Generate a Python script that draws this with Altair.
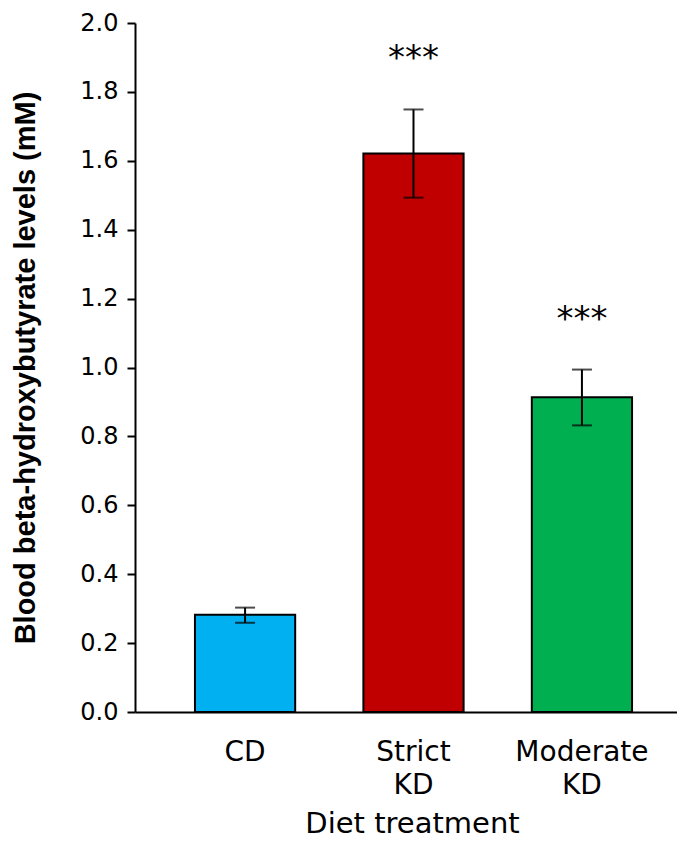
import altair as alt
import pandas as pd

diets = ["CD", "Strict KD", "Moderate KD"]
means = [0.282, 1.621, 0.914]
upper = [0.303, 1.749, 0.994]
lower = [0.259, 1.493, 0.832]
stars = ["", "***", "***"]
colors = ["#00B0F0", "#C00000", "#00B050"]

df = pd.DataFrame({"diet": diets, "mean": means, "upper": upper, "lower": lower, "stars": stars})

FONT = "DejaVu Sans"
PLOT_W = 542
PLOT_H = 689

x_scale = alt.Scale(paddingInner=0.405, paddingOuter=0.356, range=[0, 557])

x_enc = alt.X(
    "diet:N",
    sort=diets,
    scale=x_scale,
    axis=alt.Axis(
        title="Diet treatment",
        titleFont=FONT,
        titleFontSize=29,
        titleFontWeight="normal",
        titleColor="black",
        titleBaseline="alphabetic",
        titleY=120,
        titleX=277,
        labelExpr="split(datum.label, ' ')",
        labelFont=FONT,
        labelFontSize=28,
        labelColor="black",
        labelAngle=0,
        labelPadding=26,
        labelLineHeight=33,
        labelBaseline="top",
        ticks=False,
        grid=False,
        domainColor="black",
        domainWidth=2,
    ),
)

y_scale = alt.Scale(domain=[0, 2.0], nice=False)
y_axis = alt.Axis(
    title="Blood beta-hydroxybutyrate levels (mM)",
    titleFont="Liberation Sans",
    titleFontSize=29,
    titleFontWeight="bold",
    titleColor="black",
    titleAngle=270,
    titleAlign="center",
    titleBaseline="middle",
    titleX=-110,
    titleY=PLOT_H / 2,
    values=[0, 0.2, 0.4, 0.6, 0.8, 1.0, 1.2, 1.4, 1.6, 1.8, 2.0],
    format=".1f",
    labelFont=FONT,
    labelFontSize=24,
    labelColor="black",
    labelPadding=9,
    tickSize=8,
    tickWidth=2,
    tickColor="black",
    domainColor="black",
    domainWidth=2,
    grid=False,
)

base = alt.Chart(df)

bars = base.mark_bar(stroke="black", strokeWidth=2).encode(
    x=x_enc,
    y=alt.Y("mean:Q", scale=y_scale, axis=y_axis),
    color=alt.Color("diet:N", scale=alt.Scale(domain=diets, range=colors), legend=None),
)

err = base.mark_rule(color="black", strokeWidth=2).encode(
    x=alt.X("diet:N", sort=diets),
    y=alt.Y("lower:Q", scale=y_scale),
    y2="upper:Q",
)

cap_hi = base.mark_tick(color="black", size=20, thickness=2).encode(
    x=alt.X("diet:N", sort=diets),
    y=alt.Y("upper:Q", scale=y_scale),
)
cap_lo = base.mark_tick(color="black", size=20, thickness=2).encode(
    x=alt.X("diet:N", sort=diets),
    y=alt.Y("lower:Q", scale=y_scale),
)

txt = base.mark_text(font=FONT, fontSize=34, color="black", baseline="alphabetic", dy=-40).encode(
    x=alt.X("diet:N", sort=diets),
    y=alt.Y("upper:Q", scale=y_scale),
    text="stars:N",
)

chart = (
    alt.layer(bars, err, cap_hi, cap_lo, txt)
    .properties(
        width=PLOT_W,
        height=PLOT_H,
        background="white",
        autosize=alt.AutoSizeParams(type="none"),
        padding={"left": 127, "top": 15, "right": 0, "bottom": 130},
    )
    .configure_view(strokeWidth=0, stroke="transparent")
    .configure_axis(grid=False)
)

chart.save("out.html", embed_options={"renderer": "svg", "actions": False})
